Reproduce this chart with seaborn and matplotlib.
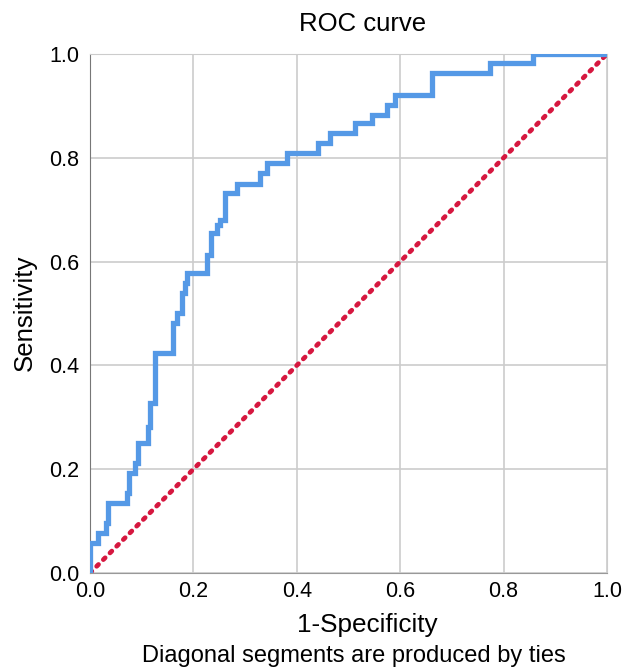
import matplotlib
matplotlib.use("Agg")
import matplotlib.pyplot as plt
import seaborn as sns
import pandas as pd

# ROC curve corners: at each fpr the curve steps up to tpr
fpr = [0, 0, 0.015, 0.031, 0.035, 0.072, 0.075, 0.087, 0.093, 0.112, 0.116, 0.126,
       0.161, 0.168, 0.178, 0.184, 0.188, 0.226, 0.234, 0.246, 0.251, 0.261, 0.284,
       0.329, 0.342, 0.381, 0.441, 0.464, 0.513, 0.545, 0.574, 0.590, 0.662, 0.774,
       0.857, 1.0]
tpr = [0, 0.058, 0.077, 0.096, 0.135, 0.154, 0.193, 0.212, 0.250, 0.281, 0.328, 0.424,
       0.482, 0.501, 0.540, 0.559, 0.578, 0.613, 0.655, 0.671, 0.680, 0.732, 0.750,
       0.771, 0.790, 0.809, 0.828, 0.848, 0.867, 0.882, 0.902, 0.921, 0.963, 0.983,
       1.0, 1.0]
ref_x = [0, 1]
ref_y = [0, 1]
ticks = [0.0, 0.2, 0.4, 0.6, 0.8, 1.0]

sns.set_style("white")
plt.rcParams["font.family"] = ["Liberation Sans", "DejaVu Sans"]
plt.rcParams["text.color"] = "black"
plt.rcParams["xtick.color"] = "black"
plt.rcParams["ytick.color"] = "black"

fig = plt.figure(figsize=(6.32, 6.68), dpi=100)
ax = fig.add_axes([90 / 632, 95 / 668, 517 / 632, 519 / 668])

roc = pd.DataFrame({"fpr": fpr, "tpr": tpr})
ref = pd.DataFrame({"x": ref_x, "y": ref_y})

sns.lineplot(data=ref, x="x", y="y", ax=ax, color="#d6173f", linewidth=3.4,
             linestyle=(0, (0.55, 1.45)), dash_capstyle="round", sort=False,
             estimator=None, zorder=3)
sns.lineplot(data=roc, x="fpr", y="tpr", ax=ax, color="#5599e6", linewidth=3.8,
             drawstyle="steps-post", sort=False, estimator=None, zorder=4,
             solid_joinstyle="miter")

ax.set_xlim(0, 1)
ax.set_ylim(0, 1)
ax.set_xticks(ticks)
ax.set_yticks(ticks)
ax.set_xticklabels([f"{t:.1f}" for t in ticks], fontsize=15.5)
ax.set_yticklabels([f"{t:.1f}" for t in ticks], fontsize=15.5)
ax.tick_params(axis="x", length=0, pad=6)
ax.tick_params(axis="y", length=0, pad=8)
ax.grid(True, color="#cccccc", linewidth=1.2)
ax.set_axisbelow(True)
for s in ["top", "right"]:
    ax.spines[s].set_color("#cccccc")
ax.spines["left"].set_color("#777777")
ax.spines["bottom"].set_color("#999999")
ax.set_xlabel("")
ax.set_ylabel("")

fig.text(363 / 632, 1 - 24 / 668, "ROC curve", ha="center", va="center", fontsize=18.5)
fig.text(367 / 632, 1 - 625 / 668, "1-Specificity", ha="center", va="center", fontsize=18.8)
fig.text(354 / 632, 1 - 656 / 668, "Diagonal segments are produced by ties",
         ha="center", va="center", fontsize=17)
fig.text(25 / 632, 1 - 313 / 668, "Sensitivity", ha="center", va="center",
         rotation=90, fontsize=18.6)

fig.savefig("out.png", dpi=100)
